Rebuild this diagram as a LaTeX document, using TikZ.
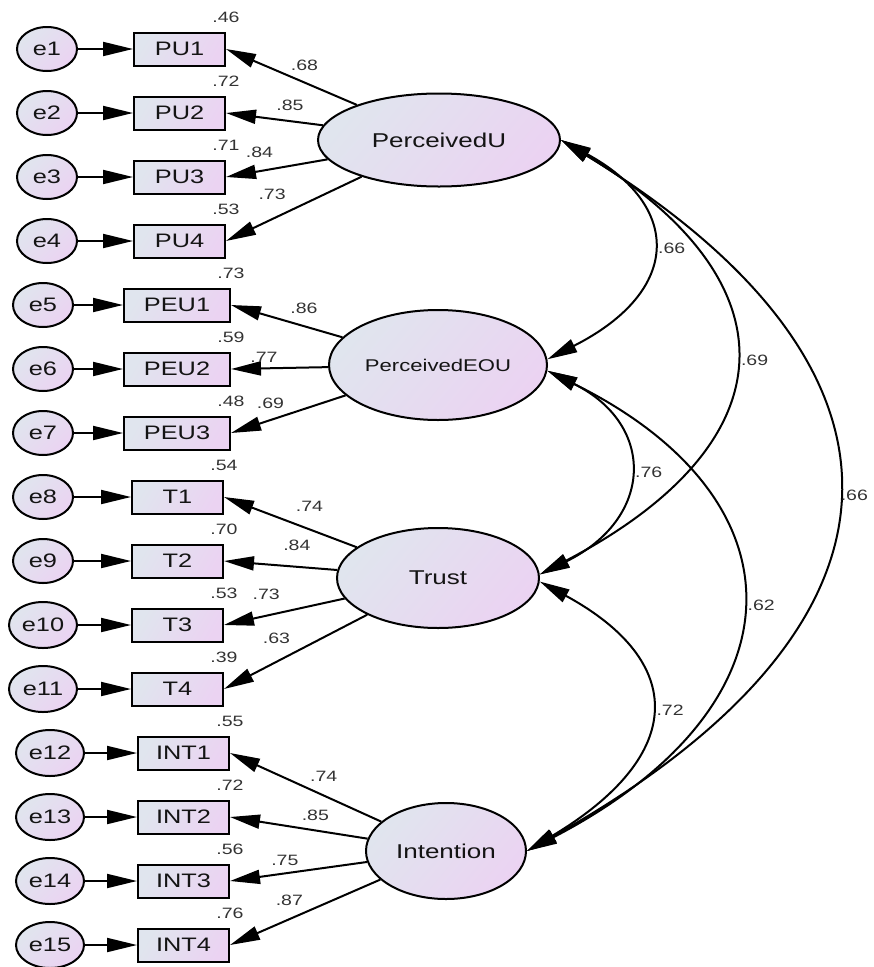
\documentclass[tikz,border=0pt]{standalone}
\usepackage{fontspec}
\setmainfont{Liberation Sans}[FakeStretch=1.3]
\usetikzlibrary{shapes,arrows.meta,positioning}
\usepackage{xcolor}
\definecolor{fillA}{HTML}{E0E5EE}
\definecolor{fillB}{HTML}{EBD3F2}
\definecolor{lblgray}{HTML}{333333}
\definecolor{ink}{HTML}{141414}

\begin{document}
\begin{tikzpicture}[x=1pt, y=-1pt, line width=2pt]
    \tikzstyle{err} = [ellipse, draw, text=ink, top color=fillA, bottom color=fillB, shading angle=45, minimum width=60pt, minimum height=44pt, inner sep=0pt, font=\fontsize{19.5}{22}\selectfont]
    \tikzstyle{errw} = [err, minimum width=68pt, minimum height=46pt]
    \tikzstyle{obs} = [rectangle, draw, text=ink, top color=fillA, bottom color=fillB, shading angle=60, minimum width=91pt, minimum height=33pt, inner sep=0pt, font=\fontsize{19.5}{22}\selectfont]
    \tikzstyle{latent} = [ellipse, draw, text=ink, top color=fillA, bottom color=fillB, shading angle=50, inner sep=0pt, font=\fontsize{20}{24}\selectfont]
    \tikzstyle{lbl} = [text=lblgray, inner sep=0pt, font=\fontsize{15}{18}\selectfont]
    \tikzstyle{arrow} = [-{Triangle[length=30pt, width=14pt]}]
    \tikzstyle{cov} = [{Triangle[length=30pt, width=14pt]}-{Triangle[length=30pt, width=14pt]}]

    \useasboundingbox (0,0) rectangle (874,967);

    % Fehlerterme
    \node[err] (e1) at (47,49) {e1};
    \node[err] (e2) at (47,113) {e2};
    \node[err] (e3) at (47,177) {e3};
    \node[err] (e4) at (47,241) {e4};
    \node[err] (e5) at (43,305) {e5};
    \node[err] (e6) at (43,369) {e6};
    \node[err] (e7) at (43,433) {e7};
    \node[err] (e8) at (43,497) {e8};
    \node[err] (e9) at (43,561) {e9};
    \node[errw] (e10) at (43,625) {e10};
    \node[errw] (e11) at (43,689) {e11};
    \node[errw] (e12) at (50,753) {e12};
    \node[errw] (e13) at (50,817) {e13};
    \node[errw] (e14) at (50,881) {e14};
    \node[errw] (e15) at (50,945) {e15};

    % Indikatoren
    \node[obs] (pu1) at (179.5,49) {PU1};
    \node[obs] (pu2) at (179.5,113) {PU2};
    \node[obs] (pu3) at (179.5,177) {PU3};
    \node[obs] (pu4) at (179.5,241) {PU4};
    \node[obs, minimum width=106pt] (peu1) at (177,305) {PEU1};
    \node[obs, minimum width=106pt] (peu2) at (177,369) {PEU2};
    \node[obs, minimum width=106pt] (peu3) at (177,433) {PEU3};
    \node[obs] (t1) at (177.5,497) {T1};
    \node[obs] (t2) at (177.5,561) {T2};
    \node[obs] (t3) at (177.5,625) {T3};
    \node[obs] (t4) at (177.5,689) {T4};
    \node[obs] (int1) at (183.5,753) {INT1};
    \node[obs] (int2) at (183.5,817) {INT2};
    \node[obs] (int3) at (183.5,881) {INT3};
    \node[obs] (int4) at (183.5,945) {INT4};

    % Konstrukte
    \node[latent, minimum width=242pt, minimum height=93pt] (pu) at (439,140) {PerceivedU};
    \node[latent, minimum width=218pt, minimum height=110pt, font=\fontsize{17}{20}\selectfont] (peu) at (438,365) {PerceivedEOU};
    \node[latent, minimum width=202pt, minimum height=100pt] (trust) at (438,578) {Trust};
    \node[latent, minimum width=160pt, minimum height=96pt] (int) at (446,851) {Intention};

    % R2-Werte
    \node[lbl, above=8pt of pu1.north east] (r-pu1) {.46};
    \node[lbl, above=8pt of pu2.north east] (r-pu2) {.72};
    \node[lbl, above=8pt of pu3.north east] (r-pu3) {.71};
    \node[lbl, above=8pt of pu4.north east] (r-pu4) {.53};
    \node[lbl, above=8pt of peu1.north east] (r-peu1) {.73};
    \node[lbl, above=8pt of peu2.north east] (r-peu2) {.59};
    \node[lbl, above=8pt of peu3.north east] (r-peu3) {.48};
    \node[lbl, above=8pt of t1.north east] (r-t1) {.54};
    \node[lbl, above=8pt of t2.north east] (r-t2) {.70};
    \node[lbl, above=8pt of t3.north east] (r-t3) {.53};
    \node[lbl, above=8pt of t4.north east] (r-t4) {.39};
    \node[lbl, above=8pt of int1.north east] (r-int1) {.55};
    \node[lbl, above=8pt of int2.north east] (r-int2) {.72};
    \node[lbl, above=8pt of int3.north east] (r-int3) {.56};
    \node[lbl, above=8pt of int4.north east] (r-int4) {.76};

    % Fehlerpfeile
    \draw[arrow] (e1) -- (pu1);
    \draw[arrow] (e2) -- (pu2);
    \draw[arrow] (e3) -- (pu3);
    \draw[arrow] (e4) -- (pu4);
    \draw[arrow] (e5) -- (peu1);
    \draw[arrow] (e6) -- (peu2);
    \draw[arrow] (e7) -- (peu3);
    \draw[arrow] (e8) -- (t1);
    \draw[arrow] (e9) -- (t2);
    \draw[arrow] (e10) -- (t3);
    \draw[arrow] (e11) -- (t4);
    \draw[arrow] (e12) -- (int1);
    \draw[arrow] (e13) -- (int2);
    \draw[arrow] (e14) -- (int3);
    \draw[arrow] (e15) -- (int4);

    % Ladungen
    \draw[arrow] (pu) -- node[lbl, pos=.40, yshift=17pt] (l-pu1) {.68} (pu1.east);
    \draw[arrow] (pu) -- node[lbl, pos=.34, yshift=16pt] (l-pu2) {.85} (pu2.east);
    \draw[arrow] (pu) -- node[lbl, pos=.67, yshift=19pt] (l-pu3) {.84} (pu3.east);
    \draw[arrow] (pu) -- node[lbl, pos=.66, yshift=25pt] (l-pu4) {.73} (pu4.east);
    \draw[arrow] (peu) -- node[lbl, pos=.345, yshift=18pt] (l-peu1) {.86} (peu1.east);
    \draw[arrow] (peu) -- node[lbl, pos=.66, yshift=11pt] (l-peu2) {.77} (peu2.east);
    \draw[arrow] (peu) -- node[lbl, pos=.655, yshift=17pt] (l-peu3) {.69} (peu3.east);
    \draw[arrow] (trust) -- node[lbl, pos=.356, yshift=23pt] (l-t1) {.74} (t1.east);
    \draw[arrow] (trust) -- node[lbl, pos=.357, yshift=21pt] (l-t2) {.84} (t2.east);
    \draw[arrow] (trust) -- node[lbl, pos=.65, yshift=21pt] (l-t3) {.73} (t3.east);
    \draw[arrow] (trust) -- node[lbl, pos=.634, yshift=23pt] (l-t4) {.63} (t4.east);
    \draw[arrow] (int) -- node[lbl, pos=.38, yshift=19pt] (l-int1) {.74} (int1.east);
    \draw[arrow] (int) -- node[lbl, pos=.38, yshift=15pt] (l-int2) {.85} (int2.east);
    \draw[arrow] (int) -- node[lbl, pos=.60, yshift=13pt] (l-int3) {.75} (int3.east);
    \draw[arrow] (int) -- node[lbl, pos=.605, yshift=19pt] (l-int4) {.87} (int4.east);

    % Kovarianzen
    \draw[cov] (pu.east) .. controls +(120,65) and +(136,-69) .. (peu.3) node[lbl, pos=.5, right=7pt] (c1) {.66};
    \draw[cov] (pu.east) .. controls +(233,140) and +(254,-133) .. (trust.2) node[lbl, pos=.5, right=7pt] (c2) {.69};
    \draw[cov] (pu.east) .. controls +(372,227) and +(406,-228) .. (int.east) node[lbl, pos=.5, right=4pt] (c3) {.66};
    \draw[cov] (peu.-3) .. controls +(109,54) and +(114,-56) .. (trust.2) node[lbl, pos=.5, right=7pt] (c4) {.76};
    \draw[cov] (peu.-3) .. controls +(261,129) and +(279,-145) .. (int.east) node[lbl, pos=.5, right=7pt] (c5) {.62};
    \draw[cov] (trust.-2) .. controls +(147,80) and +(160,-96) .. (int.east) node[lbl, pos=.5, right=7pt] (c6) {.72};
\end{tikzpicture}
\end{document}
